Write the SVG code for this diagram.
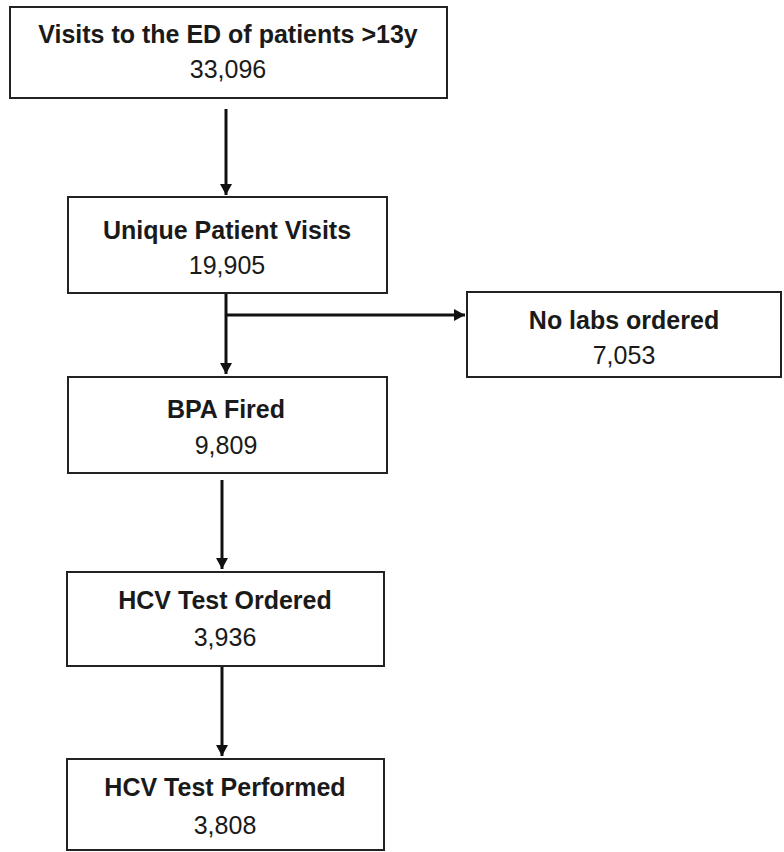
<svg xmlns="http://www.w3.org/2000/svg" width="784" height="852" viewBox="0 0 784 852">
<style>
.box{fill:#fff;stroke:#222;stroke-width:2}
.t{font-family:"Liberation Sans",Arial,sans-serif;font-size:25px;fill:#1a1a1a;text-anchor:middle}
.b{font-weight:bold}
.c{stroke:#111;stroke-width:3;fill:none}
</style>
<defs>
<marker id="ah" markerWidth="14" markerHeight="14" refX="11" refY="6" orient="auto" markerUnits="userSpaceOnUse">
<path d="M0,0 L11,6 L0,12 Z" fill="#111"/>
</marker>
</defs>
<rect width="784" height="852" fill="#fff"/>
<g id="connectors">
<line class="c" x1="226" y1="109" x2="226" y2="195" marker-end="url(#ah)"/>
<line class="c" x1="226" y1="293" x2="226" y2="374" marker-end="url(#ah)"/>
<line class="c" x1="226" y1="315" x2="465" y2="315" marker-end="url(#ah)"/>
<line class="c" x1="222" y1="480" x2="222" y2="569" marker-end="url(#ah)"/>
<line class="c" x1="222" y1="666" x2="222" y2="756" marker-end="url(#ah)"/>
</g>
<g id="n1">
<rect class="box" x="10" y="7" width="437" height="91"/>
<text class="t b" x="228" y="43">Visits to the ED of patients &gt;13y</text>
<text class="t" x="228" y="78">33,096</text>
</g>
<g id="n2">
<rect class="box" x="68" y="197" width="319" height="96"/>
<text class="t b" x="227" y="239">Unique Patient Visits</text>
<text class="t" x="227" y="274">19,905</text>
</g>
<g id="n3">
<rect class="box" x="467" y="292" width="314" height="85"/>
<text class="t b" x="624" y="329">No labs ordered</text>
<text class="t" x="624" y="364">7,053</text>
</g>
<g id="n4">
<rect class="box" x="68" y="377" width="319" height="96"/>
<text class="t b" x="226" y="418">BPA Fired</text>
<text class="t" x="226" y="454">9,809</text>
</g>
<g id="n5">
<rect class="box" x="67" y="572" width="317" height="94"/>
<text class="t b" x="225" y="609">HCV Test Ordered</text>
<text class="t" x="225" y="646">3,936</text>
</g>
<g id="n6">
<rect class="box" x="67" y="759" width="317" height="91"/>
<text class="t b" x="225" y="796">HCV Test Performed</text>
<text class="t" x="225" y="834">3,808</text>
</g>
</svg>
